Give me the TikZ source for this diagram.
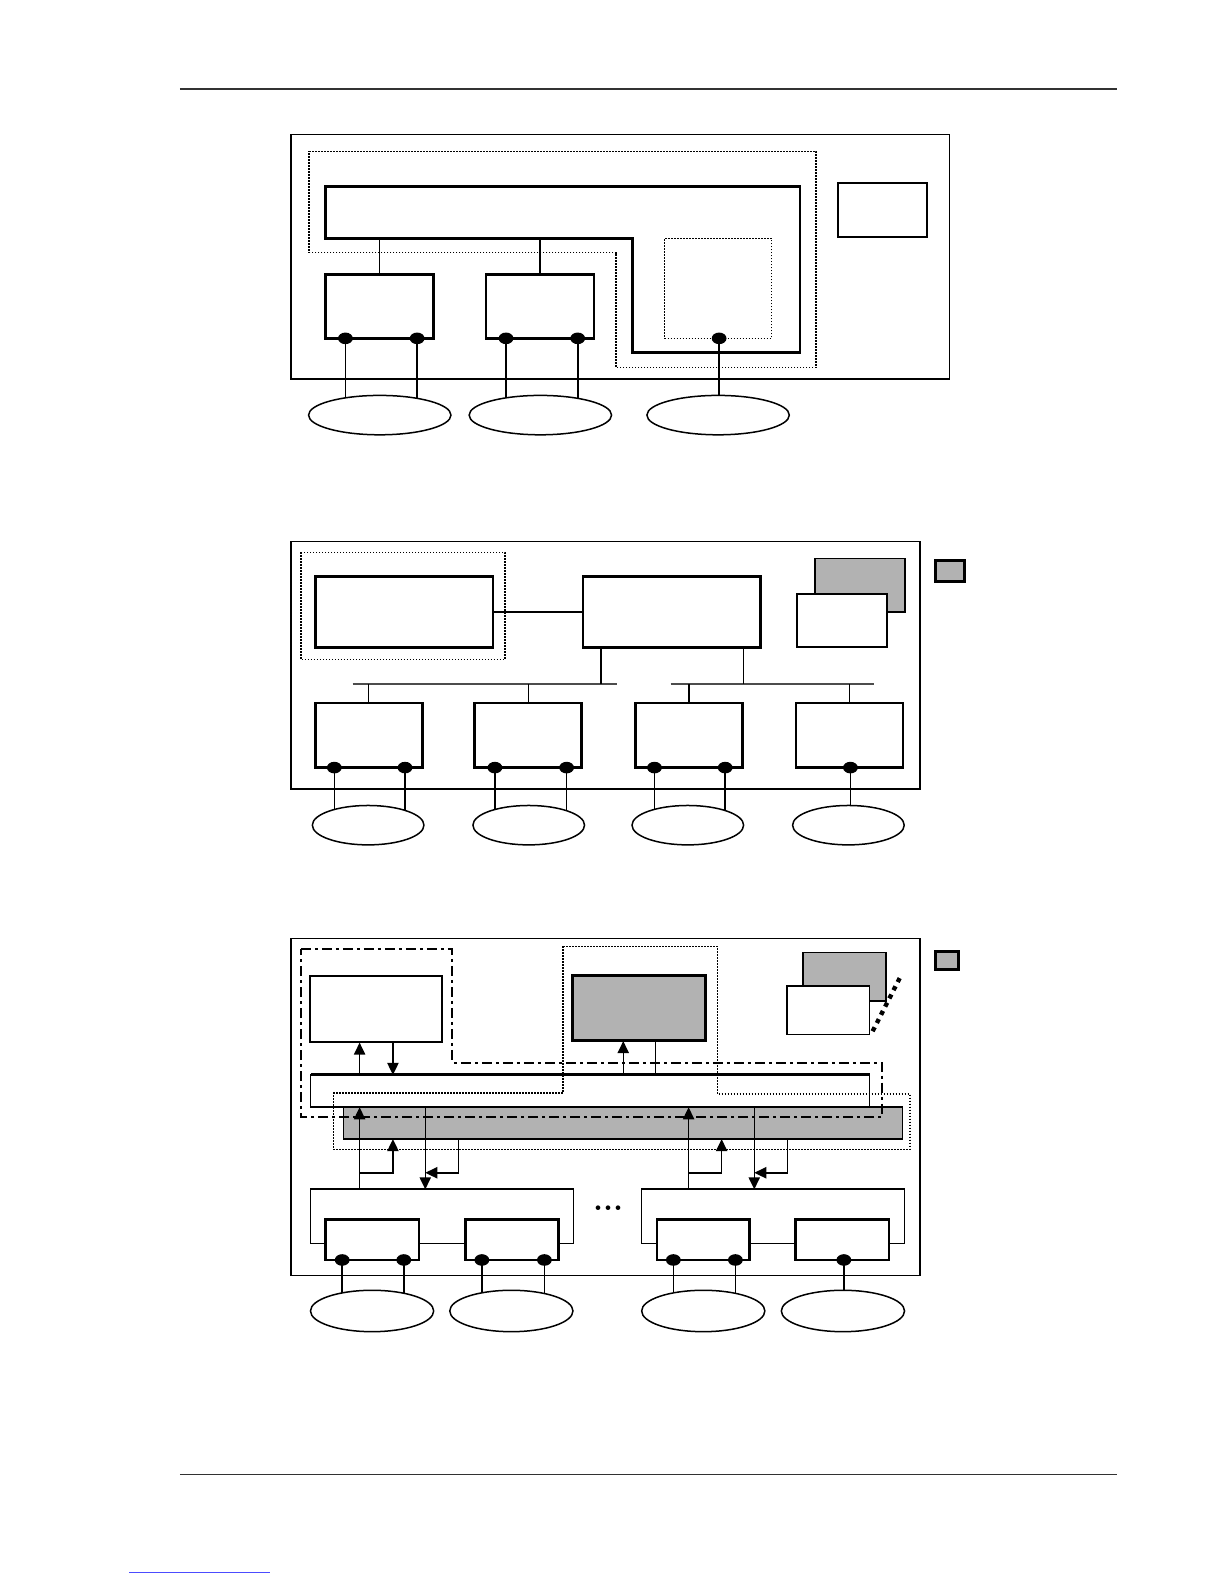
\documentclass[tikz,border=0pt]{standalone}
\usetikzlibrary{shapes.geometric,fit,arrows.meta,backgrounds,calc}
\definecolor{fillgray}{RGB}{178,178,178}
\definecolor{rulegray}{RGB}{50,50,50}
\begin{document}
\begin{tikzpicture}[x=0.5pt,y=-0.5pt,
 frame/.style={draw,line width=0.75pt},
 boxthick/.style={draw,line width=1.35pt,fill=white,inner sep=0pt,outer sep=0pt},
 boxmed/.style={draw,line width=1pt,fill=white,inner sep=0pt,outer sep=0pt},
 boxthin/.style={draw,line width=0.75pt,fill=white,inner sep=0pt,outer sep=0pt},
 graybox/.style={draw,line width=0.75pt,fill=fillgray,inner sep=0pt,outer sep=0pt},
 port/.style={ellipse,fill=black,draw=none,minimum width=7.4pt,minimum height=5.8pt,inner sep=0pt},
 net/.style={ellipse,draw,line width=0.75pt,fill=white,inner sep=0pt},
 conn/.style={line width=0.75pt},
 finedots/.style={line width=0.75pt,dash pattern=on 0.75pt off 0.75pt},
 dashdotline/.style={line width=1pt,dash pattern=on 5pt off 2pt on 1.5pt off 2pt},
 arr/.style={line width=0.75pt,-{Triangle[length=6pt,width=5.6pt]}},
]
\useasboundingbox (0,0) rectangle (1224,1584);
\begin{scope}[scale=1.01]
% page rules
\draw[line width=0.8pt,rulegray] (178,88) -- (1106,88);
\draw[line width=0.8pt,rulegray] (178,1460) -- (1106,1460);
\draw[line width=0.5pt,blue!70] (128,1557) -- (267,1557);

% ================= Diagram 1 =================
\draw[frame] (288,133) rectangle (940,375);
\draw[finedots] (306,150) -- (808,150) -- (808,364) -- (610,364) -- (610,250) -- (306,250) -- cycle;
\draw[line width=1.4pt] (322,185) -- (792,185) -- (792,349) -- (626,349) -- (626,236) -- (322,236) -- cycle;
\coordinate (bus1) at (322,236);
\node[boxmed,fit={(830,181) (918,235)}] (r1) {};
\node[boxthick,fit={(322,272) (429,335)}] (a1) {};
\node[boxthick,fit={(481,272) (588,335)}] (a2) {};
\node[draw,finedots,inner sep=0pt,outer sep=0pt,fit={(658,236) (764,335)}] (a3) {};
\draw[conn] (a1.north) -- (a1.north |- bus1);
\draw[conn] (a2.north) -- (a2.north |- bus1);
\node[net,minimum width=71.2pt,minimum height=19.7pt] (n1) at (376,411) {};
\node[net,minimum width=71.2pt,minimum height=19.7pt] (n2) at (535,411) {};
\node[net,minimum width=71.2pt,minimum height=19.7pt] (n3) at (711,411) {};
\node[port] (p11) at (342,335) {};
\node[port] (p12) at (413,335) {};
\node[port] (p21) at (501,335) {};
\node[port] (p22) at (572,335) {};
\node[port] (p31) at (712,335) {};
\begin{pgfonlayer}{background}
\draw[conn] (p11.center) -- (p11.center |- n1.center);
\draw[conn] (p12.center) -- (p12.center |- n1.center);
\draw[conn] (p21.center) -- (p21.center |- n2.center);
\draw[conn] (p22.center) -- (p22.center |- n2.center);
\draw[conn] (p31.center) -- (p31.center |- n3.center);
\end{pgfonlayer}

% ================= Diagram 2 =================
\draw[frame] (288,536) rectangle (911,781);
\node[boxthick,fit={(312,571) (488,641)}] (L2) {};
\node[boxthick,fit={(577,571) (753,641)}] (M2) {};
\draw[conn] (L2.east) -- (M2.west);
\draw[finedots] (298,547) rectangle (500,653);
\node[graybox,fit={(807,553) (896,606)}] (G2) {};
\node[boxmed,fit={(789,588) (878,641)}] (W2) {};
\node[graybox,line width=1.5pt,fit={(926,555) (955,576)}] (K2) {};
\coordinate (b2a) at (349,677);
\coordinate (b2b) at (611,677);
\coordinate (b2c) at (664,677);
\coordinate (b2d) at (865,677);
\draw[line width=1.1pt,black!70] (b2a) -- (b2b);
\draw[line width=1.1pt,black!70] (b2c) -- (b2d);
\coordinate (s21) at ($(M2.south west)!0.102!(M2.south east)$);
\coordinate (s22) at ($(M2.south west)!0.903!(M2.south east)$);
\draw[conn] (s21) -- (s21 |- b2a);
\draw[conn] (s22) -- (s22 |- b2a);
\node[boxthick,fit={(312,696) (418,760)}] (B1) {};
\node[boxthick,fit={(470,696) (576,760)}] (B2) {};
\node[boxthick,fit={(629,696) (735,760)}] (B3) {};
\node[boxthick,fit={(788,696) (894,760)}] (B4) {};
\foreach \b in {B1,B2,B3,B4} {\draw[conn] (\b.north) -- (\b.north |- b2a);}
\node[net,minimum width=55.8pt,minimum height=19.7pt] (m1) at (364.5,817) {};
\node[net,minimum width=55.8pt,minimum height=19.7pt] (m2) at (523.5,817) {};
\node[net,minimum width=55.8pt,minimum height=19.7pt] (m3) at (681,817) {};
\node[net,minimum width=55.8pt,minimum height=19.7pt] (m4) at (840,817) {};
\node[port] (q11) at (331,760) {};
\node[port] (q12) at (401,760) {};
\node[port] (q21) at (490,760) {};
\node[port] (q22) at (561,760) {};
\node[port] (q31) at (648,760) {};
\node[port] (q32) at (718,760) {};
\node[port] (q41) at (842,760) {};
\begin{pgfonlayer}{background}
\draw[line width=0.5pt] (q11.center) -- (q11.center |- m1.center);
\draw[line width=1.2pt] (q12.center) -- (q12.center |- m1.center);
\draw[line width=1.2pt] (q21.center) -- (q21.center |- m2.center);
\draw[line width=0.5pt] (q22.center) -- (q22.center |- m2.center);
\draw[line width=0.8pt] (q31.center) -- (q31.center |- m3.center);
\draw[line width=1pt] (q32.center) -- (q32.center |- m3.center);
\draw[line width=0.9pt] (q41.center) -- (q41.center |- m4.center);
\end{pgfonlayer}

% ================= Diagram 3 =================
\draw[frame] (288,929) rectangle (911,1263);
\node[boxmed,fit={(306.6,966.6) (437.4,1032)}] (T3) {};
\node[graybox,line width=1.5pt,fit={(567,966) (698,1030.5)}] (C3) {};
\node[graybox,fit={(795,943) (877,991)}] (G3) {};
\node[boxthin,fit={(779,976) (861,1024)}] (W3) {};
\draw[line width=2.2pt,dash pattern=on 2.2pt off 2.4pt] (864,1021) -- (891,968);
\node[graybox,line width=1.5pt,fit={(926,942) (948.6,960)}] (K3) {};
\node[graybox,fit={(340,1096) (893.4,1127.5)}] (GB) {};
\node[boxthin,fit={(307.4,1064) (861,1096)}] (WB) {};
\draw[line width=1.5pt] (WB.north west) -- (WB.north east);
\draw[dashdotline] (298,940) -- (448,940) -- (448,1052) -- (873,1052) -- (873,1106) -- (298,1106) -- cycle;
\draw[finedots] (557.6,937) -- (710.4,937) -- (710.4,1083) -- (901,1083) -- (901,1138) -- (330.4,1138) -- (330.4,1082) -- (557.6,1082) -- cycle;
% x positions of vertical links
\coordinate (xa) at (356,0);
\coordinate (xb) at (389,0);
\coordinate (xc) at (421,0);
\coordinate (xd) at (454,0);
\coordinate (xe) at (617,0);
\coordinate (xf) at (649,0);
\coordinate (xg) at (681.7,0);
\coordinate (xh) at (714.4,0);
\coordinate (xi) at (746.7,0);
\coordinate (xj) at (779.4,0);
\coordinate (yb) at (0,1161);
\draw[arr] (xa |- WB.north) -- (xa |- T3.south);
\draw[arr] (xb |- T3.south) -- (xb |- WB.north);
\draw[arr] (xe |- WB.north) -- (xe |- C3.south);
\draw[conn] (xf |- WB.north) -- (xf |- C3.south);
% groups
\node[boxthin,fit={(307.4,1177.3) (567.7,1231)}] (GR1) {};
\node[boxthin,fit={(634.9,1177.3) (895.6,1231)}] (GR2) {};
\node[boxthick,fit={(322.5,1207.6) (414.8,1247.5)}] (S1) {};
\node[boxthick,fit={(460.8,1207.6) (552.7,1247.5)}] (S2) {};
\node[boxthick,fit={(650.3,1207.6) (742.3,1247.5)}] (S3) {};
\node[boxthick,fit={(787.8,1207.6) (880.1,1247.5)}] (S4) {};
\node[inner sep=0pt] (more) at (602,1196) {\fontsize{16}{16}\selectfont\bfseries ...};
% group 1 links
\draw[arr] (xa |- GR1.north) -- (xa |- WB.south);
\draw[arr] (xa |- yb) -| (xb |- GB.south);
\draw[arr] (xc |- WB.south) -- (xc |- GR1.north);
\draw[arr] (xd |- GB.south) |- (xc |- yb);
% group 2 links
\draw[arr] (xg |- GR2.north) -- (xg |- WB.south);
\draw[arr] (xg |- yb) -| (xh |- GB.south);
\draw[arr] (xi |- WB.south) -- (xi |- GR2.north);
\draw[arr] (xj |- GB.south) |- (xi |- yb);
% networks
\node[net,minimum width=61.6pt,minimum height=20.7pt] (k1) at (368.4,1298) {};
\node[net,minimum width=61.6pt,minimum height=20.7pt] (k2) at (506.3,1298) {};
\node[net,minimum width=61.6pt,minimum height=20.7pt] (k3) at (696.3,1298) {};
\node[net,minimum width=61.6pt,minimum height=20.7pt] (k4) at (834.6,1298) {};
\node[port] (r11) at (338.8,1247.5) {};
\node[port] (r12) at (399.8,1247.5) {};
\node[port] (r21) at (477.1,1247.5) {};
\node[port] (r22) at (539,1247.5) {};
\node[port] (r31) at (666.7,1247.5) {};
\node[port] (r32) at (728.1,1247.5) {};
\node[port] (r41) at (835.5,1247.5) {};
\begin{pgfonlayer}{background}
\draw[conn] (r11.center) -- (r11.center |- k1.center);
\draw[conn] (r12.center) -- (r12.center |- k1.center);
\draw[conn] (r21.center) -- (r21.center |- k2.center);
\draw[conn] (r22.center) -- (r22.center |- k2.center);
\draw[conn] (r31.center) -- (r31.center |- k3.center);
\draw[conn] (r32.center) -- (r32.center |- k3.center);
\draw[conn] (r41.center) -- (r41.center |- k4.center);
\end{pgfonlayer}
\end{scope}
\end{tikzpicture}
\end{document}
